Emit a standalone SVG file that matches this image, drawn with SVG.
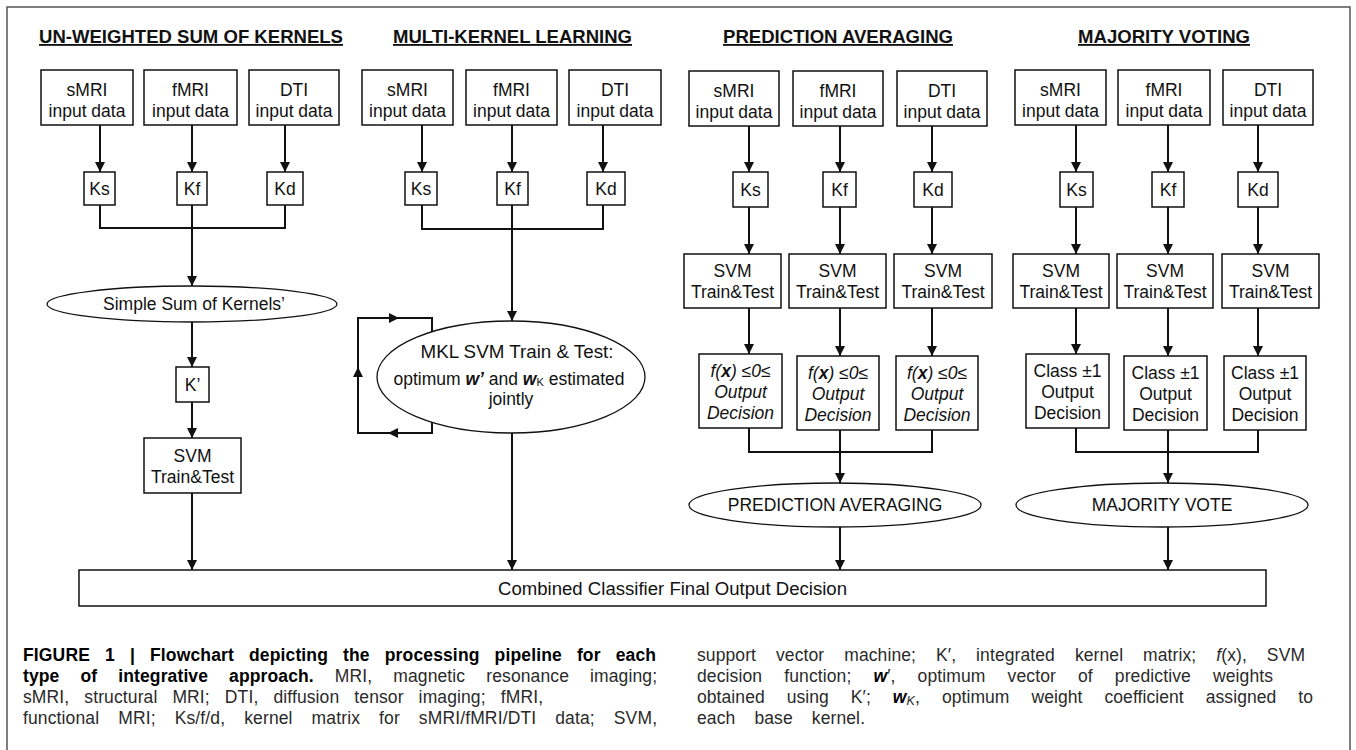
<svg xmlns="http://www.w3.org/2000/svg" width="1356" height="750" viewBox="0 0 1356 750">
<style>
.bx{fill:#fff;stroke:#111;stroke-width:1.5}
.el{fill:#fff;stroke:#111;stroke-width:1.3}
.t{font-family:"Liberation Sans",Arial,sans-serif;font-size:17.5px;fill:#111;text-anchor:middle}
.ttl{font-family:"Liberation Sans",Arial,sans-serif;font-size:18.4px;font-weight:bold;fill:#111;text-decoration:underline}
.cn{fill:none;stroke:#111;stroke-width:2}
.cap{font-family:"Liberation Sans",Arial,sans-serif;font-size:17.5px;fill:#2a2a2a}
.b{font-weight:bold;fill:#000}
.it{font-style:italic}
.bi{font-weight:bold;font-style:italic}
</style>
<defs>
<marker id="ah" viewBox="0 0 10 10" refX="10" refY="5" markerWidth="10" markerHeight="10" orient="auto" markerUnits="userSpaceOnUse">
<path d="M0,0 L10,5 L0,10 z" fill="#111"/>
</marker>
</defs>
<rect x="7" y="7" width="1343" height="760" fill="#fff" stroke="#555" stroke-width="1.5"/>

<g id="titles">
<text class="ttl" x="39" y="43" textLength="304" lengthAdjust="spacingAndGlyphs">UN-WEIGHTED SUM OF KERNELS</text>
<text class="ttl" x="393" y="43" textLength="239" lengthAdjust="spacingAndGlyphs">MULTI-KERNEL LEARNING</text>
<text class="ttl" x="723" y="43" textLength="230" lengthAdjust="spacingAndGlyphs">PREDICTION AVERAGING</text>
<text class="ttl" x="1078" y="43" textLength="172" lengthAdjust="spacingAndGlyphs">MAJORITY VOTING</text>
</g>

<g id="connectors">
<!-- UW -->
<path class="cn" d="M100,125 V172" marker-end="url(#ah)"/>
<path class="cn" d="M192,125 V172" marker-end="url(#ah)"/>
<path class="cn" d="M285,125 V172" marker-end="url(#ah)"/>
<path class="cn" d="M100,205 V228 H285 V205"/>
<path class="cn" d="M192,205 V286" marker-end="url(#ah)"/>
<path class="cn" d="M192,322 V367" marker-end="url(#ah)"/>
<path class="cn" d="M192,402 V438" marker-end="url(#ah)"/>
<path class="cn" d="M192,493 V570" marker-end="url(#ah)"/>
<!-- MKL -->
<path class="cn" d="M422,125 V172" marker-end="url(#ah)"/>
<path class="cn" d="M512,125 V172" marker-end="url(#ah)"/>
<path class="cn" d="M603,125 V172" marker-end="url(#ah)"/>
<path class="cn" d="M422,205 V229 H603 V205"/>
<path class="cn" d="M512,205 V321" marker-end="url(#ah)"/>
<path class="cn" d="M512,433 V570" marker-end="url(#ah)"/>
<path class="cn" d="M432,422 V433 H358 V318 H432 V332"/>
<path d="M388,433 L398,428 L398,438 z" fill="#111"/>
<path d="M358,367 L353,377 L363,377 z" fill="#111"/>
<path d="M399,318 L389,313 L389,323 z" fill="#111"/>
<!-- PA -->
<path class="cn" d="M749,126 V172" marker-end="url(#ah)"/>
<path class="cn" d="M840,126 V172" marker-end="url(#ah)"/>
<path class="cn" d="M932,126 V172" marker-end="url(#ah)"/>
<path class="cn" d="M749,207 V254" marker-end="url(#ah)"/>
<path class="cn" d="M840,207 V254" marker-end="url(#ah)"/>
<path class="cn" d="M932,207 V254" marker-end="url(#ah)"/>
<path class="cn" d="M749,308 V354" marker-end="url(#ah)"/>
<path class="cn" d="M840,308 V356" marker-end="url(#ah)"/>
<path class="cn" d="M932,308 V356" marker-end="url(#ah)"/>
<path class="cn" d="M749,428 V452 H932 V430"/>
<path class="cn" d="M840,430 V483" marker-end="url(#ah)"/>
<path class="cn" d="M840,527 V570" marker-end="url(#ah)"/>
<!-- MV -->
<path class="cn" d="M1076,125 V172" marker-end="url(#ah)"/>
<path class="cn" d="M1168,125 V172" marker-end="url(#ah)"/>
<path class="cn" d="M1258,125 V172" marker-end="url(#ah)"/>
<path class="cn" d="M1076,207 V254" marker-end="url(#ah)"/>
<path class="cn" d="M1168,207 V254" marker-end="url(#ah)"/>
<path class="cn" d="M1258,207 V254" marker-end="url(#ah)"/>
<path class="cn" d="M1076,308 V354" marker-end="url(#ah)"/>
<path class="cn" d="M1168,308 V356" marker-end="url(#ah)"/>
<path class="cn" d="M1258,308 V356" marker-end="url(#ah)"/>
<path class="cn" d="M1076,428 V452 H1258 V430"/>
<path class="cn" d="M1168,430 V483" marker-end="url(#ah)"/>
<path class="cn" d="M1168,527 V570" marker-end="url(#ah)"/>
</g>

<!-- Un-weighted sum -->
<g id="uw-smri"><rect class="bx" x="41" y="70" width="92" height="55"/><text class="t" x="87" y="96">sMRI</text><text class="t" x="87" y="117">input data</text></g>
<g id="uw-fmri"><rect class="bx" x="144" y="70" width="93" height="55"/><text class="t" x="190.5" y="96">fMRI</text><text class="t" x="190.5" y="117">input data</text></g>
<g id="uw-dti"><rect class="bx" x="249" y="70" width="90" height="55"/><text class="t" x="294" y="96">DTI</text><text class="t" x="294" y="117">input data</text></g>
<g id="uw-ks"><rect class="bx" x="84" y="172" width="31" height="33"/><text class="t" x="99.5" y="195">Ks</text></g>
<g id="uw-kf"><rect class="bx" x="177" y="172" width="30" height="33"/><text class="t" x="192" y="195">Kf</text></g>
<g id="uw-kd"><rect class="bx" x="267" y="172" width="36" height="33"/><text class="t" x="285" y="195">Kd</text></g>
<g id="uw-sum"><ellipse class="el" cx="192" cy="304" rx="145" ry="18"/><text class="t" x="194" y="310">Simple Sum of Kernels’</text></g>
<g id="uw-kprime"><rect class="bx" x="176" y="367" width="33" height="35"/><text class="t" x="192.5" y="391">K’</text></g>
<g id="uw-svm"><rect class="bx" x="144" y="438" width="97" height="55"/><text class="t" x="192.5" y="462">SVM</text><text class="t" x="192.5" y="483">Train&amp;Test</text></g>

<!-- MKL -->
<g id="mkl-smri"><rect class="bx" x="362" y="70" width="91" height="55"/><text class="t" x="407.5" y="96">sMRI</text><text class="t" x="407.5" y="117">input data</text></g>
<g id="mkl-fmri"><rect class="bx" x="466" y="70" width="91" height="55"/><text class="t" x="511.5" y="96">fMRI</text><text class="t" x="511.5" y="117">input data</text></g>
<g id="mkl-dti"><rect class="bx" x="569" y="70" width="92" height="55"/><text class="t" x="615" y="96">DTI</text><text class="t" x="615" y="117">input data</text></g>
<g id="mkl-ks"><rect class="bx" x="405" y="172" width="32" height="33"/><text class="t" x="421" y="195">Ks</text></g>
<g id="mkl-kf"><rect class="bx" x="497" y="172" width="31" height="33"/><text class="t" x="512.5" y="195">Kf</text></g>
<g id="mkl-kd"><rect class="bx" x="587" y="172" width="38" height="33"/><text class="t" x="606" y="195">Kd</text></g>
<g id="mkl-svm"><ellipse class="el" cx="511" cy="377" rx="134" ry="56"/>
<text class="t" x="517" y="358" textLength="193" lengthAdjust="spacingAndGlyphs">MKL SVM Train &amp; Test:</text>
<text class="t" x="509" y="385">optimum <tspan class="bi">w’</tspan> and <tspan class="bi">w</tspan><tspan font-size="11" dy="1">K</tspan><tspan dy="-1"> estimated</tspan></text>
<text class="t" x="511" y="405">jointly</text></g>

<!-- Prediction averaging -->
<g id="pa-smri"><rect class="bx" x="689" y="71" width="90" height="55"/><text class="t" x="734" y="97">sMRI</text><text class="t" x="734" y="118">input data</text></g>
<g id="pa-fmri"><rect class="bx" x="793" y="71" width="90" height="55"/><text class="t" x="838" y="97">fMRI</text><text class="t" x="838" y="118">input data</text></g>
<g id="pa-dti"><rect class="bx" x="897" y="71" width="90" height="55"/><text class="t" x="942" y="97">DTI</text><text class="t" x="942" y="118">input data</text></g>
<g id="pa-ks"><rect class="bx" x="733" y="172" width="35" height="35"/><text class="t" x="750.5" y="196">Ks</text></g>
<g id="pa-kf"><rect class="bx" x="823" y="172" width="33" height="35"/><text class="t" x="839.5" y="196">Kf</text></g>
<g id="pa-kd"><rect class="bx" x="914" y="172" width="38" height="35"/><text class="t" x="933" y="196">Kd</text></g>
<g id="pa-svm1"><rect class="bx" x="684" y="254" width="97" height="54"/><text class="t" x="732.5" y="277">SVM</text><text class="t" x="732.5" y="298">Train&amp;Test</text></g>
<g id="pa-svm2"><rect class="bx" x="789" y="254" width="97" height="54"/><text class="t" x="837.5" y="277">SVM</text><text class="t" x="837.5" y="298">Train&amp;Test</text></g>
<g id="pa-svm3"><rect class="bx" x="894" y="254" width="98" height="54"/><text class="t" x="943" y="277">SVM</text><text class="t" x="943" y="298">Train&amp;Test</text></g>
<g id="pa-dec1"><rect class="bx" x="699" y="354" width="83" height="74"/><text class="t it" x="740.5" y="377">f(<tspan class="bi">x</tspan>) ≤0≤</text><text class="t it" x="740.5" y="398">Output</text><text class="t it" x="740.5" y="419">Decision</text></g>
<g id="pa-dec2"><rect class="bx" x="797" y="356" width="82" height="74"/><text class="t it" x="838" y="379">f(<tspan class="bi">x</tspan>) ≤0≤</text><text class="t it" x="838" y="400">Output</text><text class="t it" x="838" y="421">Decision</text></g>
<g id="pa-dec3"><rect class="bx" x="896" y="356" width="82" height="74"/><text class="t it" x="937" y="379">f(<tspan class="bi">x</tspan>) ≤0≤</text><text class="t it" x="937" y="400">Output</text><text class="t it" x="937" y="421">Decision</text></g>
<g id="pa-avg"><ellipse class="el" cx="835" cy="505" rx="146" ry="22"/><text class="t" x="835" y="511">PREDICTION AVERAGING</text></g>

<!-- Majority voting -->
<g id="mv-smri"><rect class="bx" x="1015" y="70" width="91" height="55"/><text class="t" x="1060.5" y="96">sMRI</text><text class="t" x="1060.5" y="117">input data</text></g>
<g id="mv-fmri"><rect class="bx" x="1118" y="70" width="92" height="55"/><text class="t" x="1164" y="96">fMRI</text><text class="t" x="1164" y="117">input data</text></g>
<g id="mv-dti"><rect class="bx" x="1223" y="70" width="90" height="55"/><text class="t" x="1268" y="96">DTI</text><text class="t" x="1268" y="117">input data</text></g>
<g id="mv-ks"><rect class="bx" x="1060" y="172" width="33" height="35"/><text class="t" x="1076.5" y="196">Ks</text></g>
<g id="mv-kf"><rect class="bx" x="1152" y="172" width="32" height="35"/><text class="t" x="1168" y="196">Kf</text></g>
<g id="mv-kd"><rect class="bx" x="1238" y="172" width="40" height="35"/><text class="t" x="1258" y="196">Kd</text></g>
<g id="mv-svm1"><rect class="bx" x="1013" y="254" width="96" height="54"/><text class="t" x="1061" y="277">SVM</text><text class="t" x="1061" y="298">Train&amp;Test</text></g>
<g id="mv-svm2"><rect class="bx" x="1117" y="254" width="96" height="54"/><text class="t" x="1165" y="277">SVM</text><text class="t" x="1165" y="298">Train&amp;Test</text></g>
<g id="mv-svm3"><rect class="bx" x="1222" y="254" width="97" height="54"/><text class="t" x="1270.5" y="277">SVM</text><text class="t" x="1270.5" y="298">Train&amp;Test</text></g>
<g id="mv-dec1"><rect class="bx" x="1026" y="354" width="83" height="74"/><text class="t" x="1067.5" y="377">Class ±1</text><text class="t" x="1067.5" y="398">Output</text><text class="t" x="1067.5" y="419">Decision</text></g>
<g id="mv-dec2"><rect class="bx" x="1124" y="356" width="83" height="74"/><text class="t" x="1165.5" y="379">Class ±1</text><text class="t" x="1165.5" y="400">Output</text><text class="t" x="1165.5" y="421">Decision</text></g>
<g id="mv-dec3"><rect class="bx" x="1224" y="356" width="82" height="74"/><text class="t" x="1265" y="379">Class ±1</text><text class="t" x="1265" y="400">Output</text><text class="t" x="1265" y="421">Decision</text></g>
<g id="mv-vote"><ellipse class="el" cx="1162" cy="505" rx="146" ry="22"/><text class="t" x="1162" y="511">MAJORITY VOTE</text></g>

<g id="final"><rect class="bx" x="79" y="570" width="1187" height="36"/><text class="t" x="672.5" y="595" font-size="19" textLength="349" lengthAdjust="spacingAndGlyphs">Combined Classifier Final Output Decision</text></g>

<g id="caption">
<text class="cap" x="23" y="661" word-spacing="10" textLength="633" lengthAdjust="spacing"><tspan class="b">FIGURE 1 | Flowchart depicting the processing pipeline for each</tspan></text>
<text class="cap" x="23" y="682" word-spacing="16" textLength="634" lengthAdjust="spacing"><tspan class="b">type of integrative approach.</tspan> MRI, magnetic resonance imaging;</text>
<text class="cap" x="23" y="703" word-spacing="10" textLength="520" lengthAdjust="spacing">sMRI, structural MRI; DTI, diffusion tensor imaging; fMRI,</text>
<text class="cap" x="23" y="724" word-spacing="14" textLength="634" lengthAdjust="spacing">functional MRI; Ks/f/d, kernel matrix for sMRI/fMRI/DTI data; SVM,</text>
<text class="cap" x="697" y="661" word-spacing="15" textLength="608" lengthAdjust="spacing">support vector machine; K′, integrated kernel matrix; <tspan class="it">f</tspan>(x), SVM</text>
<text class="cap" x="697" y="682" word-spacing="17" textLength="576" lengthAdjust="spacing">decision function; <tspan class="bi" fill="#000">w</tspan>′, optimum vector of predictive weights</text>
<text class="cap" x="697" y="703" word-spacing="17" textLength="616" lengthAdjust="spacing">obtained using K′; <tspan class="bi" fill="#000">w</tspan><tspan class="it" font-size="12.5" dy="2">K</tspan><tspan dy="-2">, optimum weight coefficient assigned to</tspan></text>
<text class="cap" x="697" y="724" word-spacing="14" textLength="168" lengthAdjust="spacing">each base kernel.</text>
</g>
</svg>
